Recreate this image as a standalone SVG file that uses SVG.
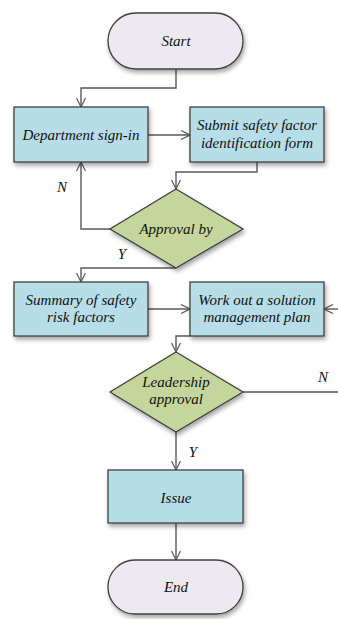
<svg xmlns="http://www.w3.org/2000/svg" width="338" height="619" viewBox="0 0 338 619">
<defs>
<filter id="sh" x="-20%" y="-20%" width="140%" height="150%">
<feDropShadow dx="1.5" dy="3" stdDeviation="2" flood-color="#000" flood-opacity="0.35"/>
</filter>
<marker id="arr" viewBox="0 0 10 10" refX="10" refY="5" markerWidth="10" markerHeight="10" markerUnits="userSpaceOnUse" orient="auto">
<path d="M1,0.5 L10,5 L1,9.5" fill="none" stroke="#595959" stroke-width="1.2"/>
</marker>
<style>
.box{fill:#b7dde8;stroke:#404040;stroke-width:1.3;filter:url(#sh)}
.dia{fill:#c4d69c;stroke:#404040;stroke-width:1.3;filter:url(#sh)}
.term{fill:#ece9f0;stroke:#404040;stroke-width:1.3;filter:url(#sh)}
.t{font-family:"Liberation Serif","Times New Roman",serif;font-style:italic;font-size:15px;fill:#111;text-anchor:middle}
.l{font-family:"Liberation Serif","Times New Roman",serif;font-style:italic;font-size:15px;fill:#111;text-anchor:middle}
.c{fill:none;stroke:#595959;stroke-width:1.4}
</style>
</defs>
<g id="connectors">
<path class="c" d="M176,69 V88 H81 V107" marker-end="url(#arr)"/>
<path class="c" d="M148,135 H190" marker-end="url(#arr)"/>
<path class="c" d="M257,162 V172 H176 V189" marker-end="url(#arr)"/>
<path class="c" d="M110,229 H81 V162" marker-end="url(#arr)"/>
<path class="c" d="M176,268 H81 V282" marker-end="url(#arr)"/>
<path class="c" d="M148,309 H190" marker-end="url(#arr)"/>
<path class="c" d="M338,309 H324" marker-end="url(#arr)"/>
<path class="c" d="M190,336 H176 V352" marker-end="url(#arr)"/>
<path class="c" d="M243,392 H338"/>
<path class="c" d="M176,432 V470" marker-end="url(#arr)"/>
<path class="c" d="M176,523 V560" marker-end="url(#arr)"/>
<text class="l" x="62" y="192">N</text>
<text class="l" x="122" y="259">Y</text>
<text class="l" x="323" y="382">N</text>
<text class="l" x="193" y="457">Y</text>
</g>
<g id="start">
<rect class="term" x="108" y="13" width="135" height="56" rx="28"/>
<text class="t" x="176" y="46">Start</text>
</g>
<g id="dept">
<rect class="box" x="14" y="107" width="134" height="55"/>
<text class="t" x="81" y="140">Department sign-in</text>
</g>
<g id="submit">
<rect class="box" x="190" y="107" width="134" height="55"/>
<text class="t" x="257" y="130">Submit safety factor</text>
<text class="t" x="257" y="148">identification form</text>
</g>
<g id="approval">
<polygon class="dia" points="176,189 243,229 176,268 110,229"/>
<text class="t" x="176" y="234">Approval by</text>
</g>
<g id="summary">
<rect class="box" x="14" y="282" width="134" height="54"/>
<text class="t" x="81" y="305">Summary of safety</text>
<text class="t" x="81" y="322">risk factors</text>
</g>
<g id="workout">
<rect class="box" x="190" y="282" width="134" height="54"/>
<text class="t" x="257" y="305">Work out a solution</text>
<text class="t" x="257" y="322">management plan</text>
</g>
<g id="leadership">
<polygon class="dia" points="176,352 243,392 176,432 110,392"/>
<text class="t" x="176" y="387">Leadership</text>
<text class="t" x="176" y="404">approval</text>
</g>
<g id="issue">
<rect class="box" x="108" y="470" width="135" height="53"/>
<text class="t" x="176" y="503">Issue</text>
</g>
<g id="end">
<rect class="term" x="108" y="560" width="135" height="54" rx="27"/>
<text class="t" x="176" y="592">End</text>
</g>
</svg>
